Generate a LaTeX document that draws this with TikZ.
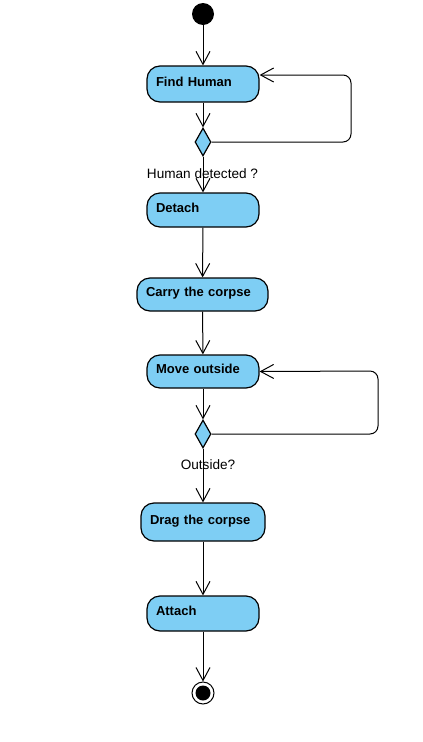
\documentclass[tikz,border=0pt]{standalone}
\usepackage{fontspec}
\setmainfont{Liberation Sans}
\usetikzlibrary{arrows.meta,shapes.geometric,calc}
\definecolor{actfill}{RGB}{126,206,244}
\begin{document}
\begin{tikzpicture}[x=1pt,y=1pt,
  act/.style={draw=black, fill=actfill, line width=1.2pt, rounded corners=13pt,
    minimum height=#1, inner xsep=9pt, inner ysep=0pt, align=left,
    text height=9pt, text depth=4.5pt,
    font=\fontsize{13}{15}\selectfont\bfseries},
  dec/.style={draw=black, fill=actfill, line width=1.2pt, shape=diamond, inner sep=0pt,
    minimum width=16pt, minimum height=28pt, aspect=0.57},
  arr/.style={draw=black, line width=1pt, -{Straight Barb[length=13pt,width=14pt,line width=1pt]}},
  lbl/.style={font=\fontsize{13.6}{16}\selectfont, text=black, inner sep=0pt}
]
\useasboundingbox (0,0) rectangle (423,-742);
\node[circle, fill=black, minimum size=22pt, inner sep=0pt] (start) at (203,-14) {};
\node[act=36pt, text width=94pt] (find) at (203,-84) {Find Human};
\node[dec] (d1) at (203,-142) {};
\node[lbl] (l1) at (202.5,-174) {Human detected ?};
\node[act=34pt, text width=94pt] (detach) at (203,-210) {Detach};
\node[act=33pt, text width=113pt] (carry) at (202.5,-294.5) {Carry the corpse};
\node[act=33pt, text width=94pt] (move) at (203,-371.5) {Move outside};
\node[dec] (d2) at (203,-434) {};
\node[lbl] (l2) at (208,-465) {Outside?};
\node[act=38pt, text width=106pt] (drag) at (203,-522) {Drag the corpse};
\node[act=35pt, text width=94pt] (attach) at (203,-613.5) {Attach};
\node[circle, draw=black, line width=1pt, minimum size=22pt, inner sep=0pt] (end) at (203,-693) {};
\fill[black] (end.center) circle (7.5pt);

\draw[arr] (start) -- (find);
\draw[arr] (find) -- (d1);
\draw[arr] (d1) -- (detach);
\draw[arr] (detach) -- (carry);
\draw[arr] (carry) -- (move);
\draw[arr] (move) -- (d2);
\draw[arr] (d2) -- (drag);
\draw[arr] (drag) -- (attach);
\draw[arr] (attach) -- (end);

\coordinate (c1) at (351,-75);
\coordinate (c2) at (378,-371);
\draw[arr, rounded corners=8pt] (d1.east) -| (c1) -- ([yshift=9pt]find.east);
\draw[arr, rounded corners=8pt] (d2.east) -| (c2) -- (move.east);
\end{tikzpicture}
\end{document}
